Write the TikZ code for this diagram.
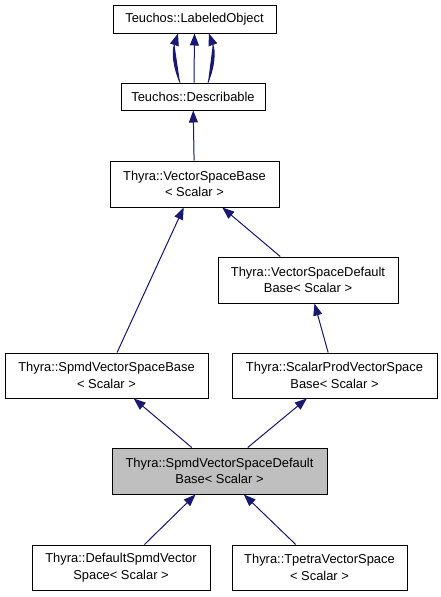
\documentclass[tikz,border=0pt]{standalone}
\usepackage{fontspec}
\setmainfont{Liberation Sans}
\usepackage{tikz}
\usetikzlibrary{arrows.meta}
\definecolor{edgeblue}{HTML}{191970}
\definecolor{boxgray}{HTML}{BFBFBF}

\begin{document}
\begin{tikzpicture}[x=1pt, y=-1pt, >={Triangle[length=12pt,width=9pt]},
	class/.style={draw, line width=1pt, align=center, inner sep=0pt,
		font=\fontsize{12.9}{16.5}\selectfont},
	inherit/.style={->, draw=edgeblue, fill=edgeblue, line width=1pt}]
			\useasboundingbox (0,0) rectangle (440,597);
			\node[class, minimum width=163pt, minimum height=28pt] (labeled) at (194.5,19) {Teuchos::LabeledObject};
			\node[class, minimum width=144pt, minimum height=27pt] (describable) at (193,96.5) {Teuchos::Describable};
			\node[class, minimum width=169pt, minimum height=46pt] (vsbase) at (194.5,184) {Thyra::VectorSpaceBase\\< Scalar >};
			\node[class, minimum width=180pt, minimum height=46pt] (vsdefault) at (308,280) {Thyra::VectorSpaceDefault\\Base< Scalar >};
			\node[class, minimum width=203pt, minimum height=45pt] (spmdbase) at (106.5,375.5) {Thyra::SpmdVectorSpaceBase\\< Scalar >};
			\node[class, minimum width=205pt, minimum height=45pt] (scalarprod) at (334.5,375.5) {Thyra::ScalarProdVectorSpace\\Base< Scalar >};
			\node[class, fill=boxgray, minimum width=215pt, minimum height=46pt] (spmddefault) at (219.5,471) {Thyra::SpmdVectorSpaceDefault\\Base< Scalar >};
			\node[class, minimum width=178pt, minimum height=45pt] (defaultspmd) at (121,567.5) {Thyra::DefaultSpmdVector\\Space< Scalar >};
			\node[class, minimum width=175pt, minimum height=45pt] (tpetra) at (319.5,567.5) {Thyra::TpetraVectorSpace\\< Scalar >};
			% three links to the labeled object
			\draw[inherit] ([xshift=-13pt]describable.north) to[bend left=20] ([xshift=-16.5pt]labeled.south);
			\draw[inherit] ([xshift=1pt]describable.north) -- (labeled.south);
			\draw[inherit] ([xshift=15pt]describable.north) to[bend right=20] ([xshift=14.5pt]labeled.south);
			\draw[inherit] (vsbase) -- (describable);
			\draw[inherit] (vsdefault) -- (vsbase);
			\draw[inherit] (spmdbase) -- (vsbase);
			\draw[inherit] (scalarprod) -- (vsdefault);
			\draw[inherit] (spmddefault) -- (spmdbase);
			\draw[inherit] (spmddefault) -- (scalarprod);
			\draw[inherit] (defaultspmd) -- (spmddefault);
			\draw[inherit] (tpetra) -- (spmddefault);
			\end{tikzpicture}
\end{document}
